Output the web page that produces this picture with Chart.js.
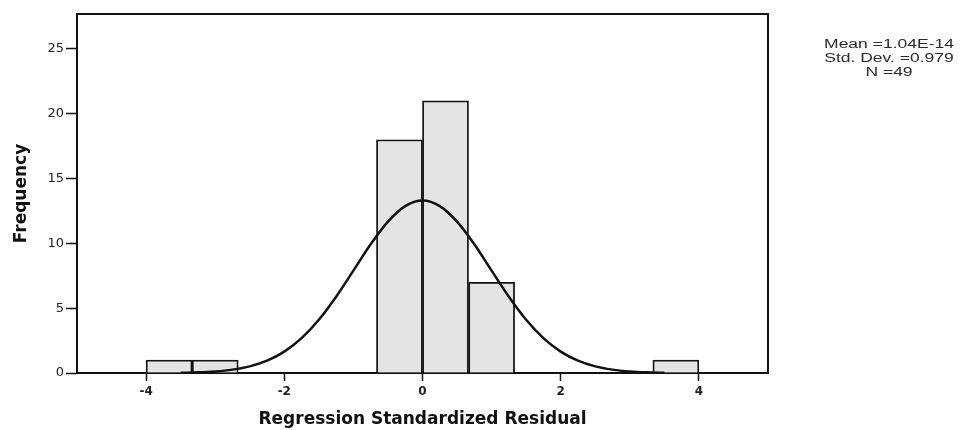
<!DOCTYPE html>
<html>
<head>
<meta charset="utf-8">
<script src="https://cdn.jsdelivr.net/npm/chart.js@4"></script>
<style>
  html, body { margin: 0; padding: 0; background: #fff; }
  #wrap { width: 960px; height: 430px; }
</style>
</head>
<body>
<div id="wrap"><canvas id="chart"></canvas></div>
<script>
// histogram of the standardized residuals, bins are 2/3 wide
var binCenters = [-3.667, -3, -2.333, -1.667, -1, -0.333, 0.333, 1, 1.667, 2.333, 3, 3.667];
var binCounts = [1, 1, 0, 0, 0, 18, 21, 7, 0, 0, 0, 1];

// normal curve
var curveX = [-3.5, -3.25, -3, -2.75, -2.5, -2.25, -2, -1.75, -1.5, -1.25, -1, -0.75, -0.5, -0.25, 0,
              0.25, 0.5, 0.75, 1, 1.25, 1.5, 1.75, 2, 2.25, 2.5, 2.75, 3, 3.25, 3.5];
var curveY = [0.02, 0.05, 0.12, 0.26, 0.51, 0.95, 1.65, 2.69, 4.11, 5.89, 7.9, 9.93, 11.68, 12.88, 13.31,
              12.88, 11.68, 9.93, 7.9, 5.89, 4.11, 2.69, 1.65, 0.95, 0.51, 0.26, 0.12, 0.05, 0.02];

var xTicks = [-4, -2, 0, 2, 4];
var yTicks = [0, 5, 10, 15, 20, 25];
var statsLines = ['Mean =1.04E-14', 'Std. Dev. =0.979', 'N =49'];

var ink = '#111';

// top and right side of the plot box
var framePlugin = {
    id: 'frame',
    afterDatasetsDraw: function(chart) {
        var a = chart.chartArea, ctx = chart.ctx;
        ctx.save();
        ctx.strokeStyle = ink;
        ctx.lineWidth = 2;
        ctx.beginPath();
        ctx.moveTo(a.left, a.top);
        ctx.lineTo(a.right, a.top);
        ctx.lineTo(a.right, a.bottom);
        ctx.stroke();
        ctx.restore();
    }
};

// the stats block on the right (the scan is a bit wide, so the text is stretched)
var statsPlugin = {
    id: 'stats',
    afterDraw: function(chart) {
        var ctx = chart.ctx;
        ctx.save();
        ctx.font = '12.5px "Liberation Sans"';
        ctx.fillStyle = '#2a2a2a';
        ctx.textAlign = 'center';
        ctx.textBaseline = 'middle';
        statsLines.forEach(function(t, i) {
            ctx.save();
            ctx.translate(889, 45 + i * 14);
            ctx.scale(1.4, 1);
            ctx.fillText(t, 0, 0);
            ctx.restore();
        });
        ctx.restore();
    }
};

var ctx = document.getElementById('chart');

new Chart(ctx, {
    type: 'bar',
    data: {
        datasets: [{
            type: 'line',
            data: curveX.map(function(x, i) { return {x: x, y: curveY[i]}; }),
            borderColor: ink,
            borderWidth: 2.5,
            pointRadius: 0,
            cubicInterpolationMode: 'monotone',
            fill: false,
            order: 0
        }, {
            type: 'bar',
            data: binCenters.map(function(x, i) { return {x: x, y: binCounts[i]}; }),
            backgroundColor: '#e4e4e4',
            borderColor: ink,
            borderWidth: 1.8,
            barPercentage: 1,
            categoryPercentage: 1,
            order: 1
        }]
    },
    options: {
        responsive: true,
        maintainAspectRatio: false,
        animation: false,
        layout: { padding: { left: 0, right: 192, top: 14, bottom: 0 } },
        plugins: {
            legend: { display: false },
            tooltip: { enabled: false }
        },
        scales: {
            x: {
                type: 'linear',
                min: -5,
                max: 5,
                offset: false,
                afterBuildTicks: function(s) { s.ticks = xTicks.map(function(v) { return {value: v}; }); },
                afterFit: function(s) { s.height = 57; },
                grid: { offset: false, drawOnChartArea: false, tickLength: 8, tickWidth: 1.5, tickColor: ink },
                border: { color: ink, width: 2 },
                ticks: {
                    color: '#222',
                    padding: 4,
                    maxRotation: 0,
                    font: { family: 'DejaVu Sans', size: 12, weight: 'bold' }
                },
                title: {
                    display: true,
                    text: 'Regression Standardized Residual',
                    color: ink,
                    padding: 0,
                    font: { family: 'DejaVu Sans', size: 17, weight: 'bold' }
                }
            },
            y: {
                min: 0,
                max: 27.7,
                afterBuildTicks: function(s) { s.ticks = yTicks.map(function(v) { return {value: v}; }); },
                afterFit: function(s) { s.width = 77; },
                grid: { drawOnChartArea: false, tickLength: 11, tickWidth: 1.5, tickColor: ink },
                border: { color: ink, width: 2 },
                ticks: {
                    color: '#222',
                    padding: 2,
                    font: { family: 'DejaVu Sans', size: 13 }
                },
                title: {
                    display: true,
                    text: 'Frequency',
                    color: ink,
                    padding: { top: 11, bottom: 0 },
                    font: { family: 'DejaVu Sans', size: 17, weight: 'bold' }
                }
            }
        }
    },
    plugins: [framePlugin, statsPlugin]
});
</script>
</body>
</html>
